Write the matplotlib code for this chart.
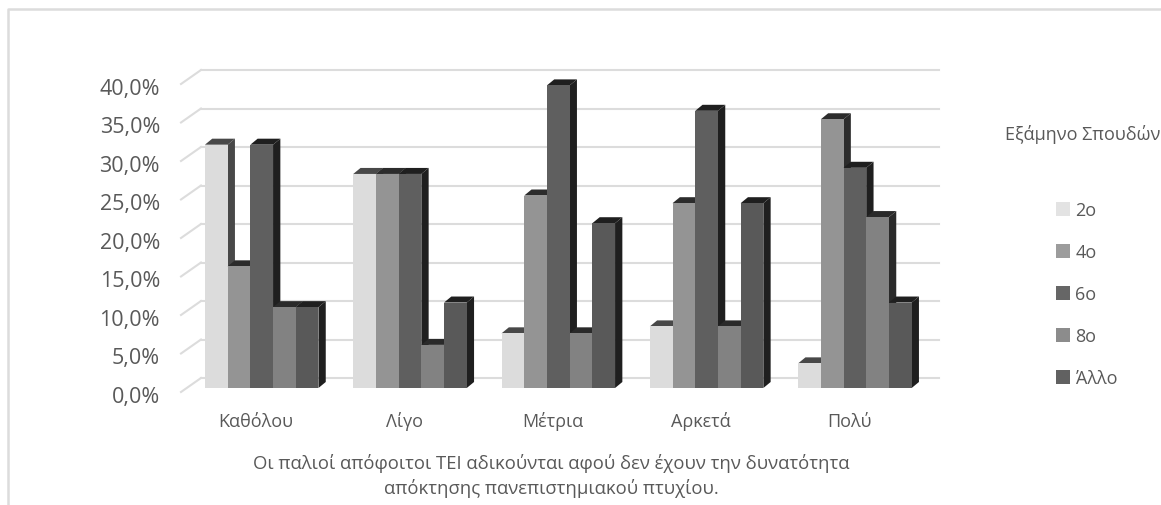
import matplotlib
matplotlib.use("Agg")
import matplotlib.pyplot as plt
from matplotlib.patches import Polygon, Patch, Rectangle
from matplotlib.transforms import Affine2D
from matplotlib.lines import Line2D

categories = ["Καθόλου", "Λίγο", "Μέτρια", "Αρκετά", "Πολύ"]
series_names = ["2ο", "4ο", "6ο", "8ο", "Άλλο"]
s2 = [31.6, 27.8, 7.1, 8.0, 3.2]
s4 = [15.8, 27.8, 25.0, 24.0, 34.9]
s6 = [31.6, 27.8, 39.3, 36.0, 28.6]
s8 = [10.5, 5.6, 7.1, 8.0, 22.2]
s_other = [10.5, 11.1, 21.4, 24.0, 11.1]
all_series = [s2, s4, s6, s8, s_other]
yticks = [0, 5, 10, 15, 20, 25, 30, 35, 40]
xlabel_lines = ["Οι παλιοί απόφοιτοι ΤΕΙ αδικούνται αφού δεν έχουν την δυνατότητα",
                "απόκτησης πανεπιστημιακού πτυχίου."]
legend_title = "Εξάμηνο Σπουδών"

front = ["#dcdcdc", "#949494", "#5f5f5f", "#828282", "#595959"]
side = ["#484848", "#2c2c2c", "#1f1f1f", "#2a2a2a", "#1f1f1f"]
top = ["#484848", "#2c2c2c", "#1f1f1f", "#2a2a2a", "#1f1f1f"]
legend_cols = ["#e3e3e3", "#9c9c9c", "#666666", "#8c8c8c", "#616161"]
text_col = "#595959"
grid_col = "#dcdcdc"

plt.rcParams["font.family"] = ["Open Sans", "Noto Sans", "DejaVu Sans"]
W, H = 1161, 506
fig = plt.figure(figsize=(W / 100, H / 100), dpi=100)

L, R, T, B = 181, 939, 71, 393
ax = fig.add_axes([L / W, 1 - B / H, (R - L) / W, (B - T) / H])
px_per_cat, x0 = 148.3, 261.7
px_per_pct, y0 = 7.7, 389
ax.set_xlim((L - x0) / px_per_cat, (R - x0) / px_per_cat)
ax.set_ylim((y0 - B) / px_per_pct, (y0 - T) / px_per_pct)
ax.axis("off")

dx_w = 20
wall_trans = ax.transData + Affine2D().translate(0, 10)
for v in yticks:
    xl, xr = ax.get_xlim()
    xw = xl + dx_w / px_per_cat
    ax.add_line(Line2D([xw, xr], [v, v], color=grid_col, lw=1.5,
                       transform=wall_trans, clip_on=False, zorder=1))
    ax.add_line(Line2D([xl, xw], [v - 14 / px_per_pct, v], color=grid_col, lw=1.5,
                       transform=wall_trans, clip_on=False, zorder=1))
    ax.text(xl - 21 / px_per_cat, v - 8.5 / px_per_pct, f"{v:.1f}%".replace(".", ","),
            ha="right", va="center", fontsize=15.5, color=text_col, zorder=5)

bw = 22.7 / px_per_cat
dx, dy = 7.3 / px_per_cat, 6 / px_per_pct
z = 2
for c, cat in enumerate(categories):
    for s, values in enumerate(all_series):
        v = values[c]
        x = c + (s - 2.5) * bw
        ax.add_patch(Polygon([(x + bw, 0), (x + bw + dx, dy), (x + bw + dx, v + dy), (x + bw, v)],
                             closed=True, fc=side[s], ec="none", zorder=z))
        ax.add_patch(Polygon([(x, v), (x + dx, v + dy), (x + bw + dx, v + dy), (x + bw, v)],
                             closed=True, fc=top[s], ec="none", zorder=z))
        ax.add_patch(Rectangle((x, 0), bw, v, fc=front[s], ec="none", zorder=z + 0.5))
        z += 1
    ax.text(c - 5.5 / px_per_cat, (y0 - 422) / px_per_pct, cat, ha="center", va="center",
            fontsize=13, color=text_col)

fig.text(551 / W, 1 - 464 / H, xlabel_lines[0], ha="center", va="center",
         fontsize=13.3, color=text_col)
fig.text(551 / W, 1 - 489 / H, xlabel_lines[1], ha="center", va="center",
         fontsize=13.3, color=text_col)
fig.text(1005 / W, 1 - 134 / H, legend_title, ha="left", va="center",
         fontsize=13, color=text_col)

handles = [Patch(fc=c, ec="none") for c in legend_cols]
leg = fig.legend(handles, series_names, loc="upper left",
                 bbox_to_anchor=(1056 / W, 1 - 202 / H), bbox_transform=fig.transFigure,
                 frameon=False, fontsize=13, labelcolor=text_col,
                 handlelength=0.78, handleheight=0.78, handletextpad=0.3,
                 labelspacing=1.33, borderpad=0, borderaxespad=0)

fig.add_artist(Line2D([8 / W, 8 / W, 1], [0, 1 - 10 / H, 1 - 10 / H], color=grid_col, lw=1.8))

fig.savefig("out.png", dpi=100, facecolor="white")
